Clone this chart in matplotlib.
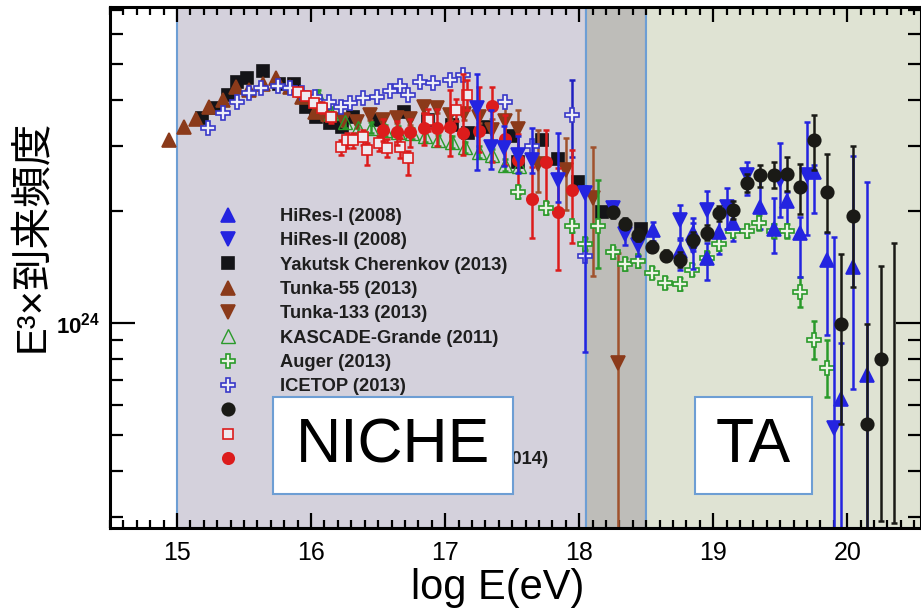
import numpy as np
import matplotlib
matplotlib.use("Agg")
from matplotlib import pyplot as plt
from matplotlib.patches import Rectangle
from matplotlib.ticker import LogLocator, NullFormatter, MultipleLocator, FixedLocator

plt.rcParams['font.family'] = ['Liberation Sans', 'Noto Sans CJK JP', 'DejaVu Sans']
plt.rcParams['mathtext.fontset'] = 'custom'
plt.rcParams['mathtext.rm'] = 'Liberation Sans'
plt.rcParams['mathtext.bf'] = 'Liberation Sans:bold'

# y values are log10(E^3 J)
tunka55_x = [14.94, 15.05, 15.14, 15.24, 15.34, 15.44, 15.54, 15.64, 15.74, 15.84, 15.93, 16.03]
tunka55_y = [24.493, 24.528, 24.550, 24.582, 24.601, 24.636, 24.628, 24.644, 24.660, 24.636, 24.609, 24.569]

yakutsk_x = [15.19, 15.28, 15.38, 15.45, 15.52, 15.64, 15.76, 15.87, 15.96, 16.04, 16.14, 16.23, 16.31,
             16.49, 16.69, 16.87, 17.05, 17.17, 17.30, 17.49, 17.54, 17.72, 17.84, 17.99, 18.17, 18.46]
yakutsk_y = [24.553, 24.580, 24.615, 24.650, 24.660, 24.679, 24.644, 24.644, 24.582, 24.555, 24.539, 24.528, 24.555,
             24.547, 24.569, 24.547, 24.534, 24.512, 24.528, 24.504, 24.434, 24.493, 24.442, 24.380, 24.299, 24.253]

icetop_x = [15.23, 15.34, 15.45, 15.54, 15.63, 15.75, 15.84, 15.93, 16.03, 16.13, 16.22, 16.29, 16.39,
            16.49, 16.59, 16.66, 16.72, 16.81, 16.91, 17.04, 17.13, 17.45, 17.65, 17.95, 18.04]
icetop_y = [24.526, 24.566, 24.596, 24.620, 24.633, 24.639, 24.633, 24.620, 24.609, 24.596, 24.582, 24.593, 24.607,
            24.609, 24.625, 24.639, 24.615, 24.650, 24.647, 24.655, 24.668, 24.596, 24.477, 24.561, 24.181]
icetop_hi = [0] * 23 + [0.094, 0]
icetop_lo = [0] * 23 + [0.114, 0]

kascade_x = [16.05, 16.15, 16.25, 16.35, 16.45, 16.55, 16.65, 16.75, 16.85, 16.95, 17.05, 17.15, 17.25, 17.35, 17.45, 17.55]
kascade_y = [24.612, 24.566, 24.542, 24.526, 24.526, 24.520, 24.515, 24.512, 24.504, 24.493, 24.488, 24.474, 24.461,
             24.453, 24.426, 24.423]
kascade_err = [0.015] * 16

auger_x = [17.54, 17.75, 17.95, 18.04, 18.14, 18.25, 18.34, 18.44, 18.54, 18.64, 18.75, 18.84, 18.95, 19.04,
           19.15, 19.25, 19.34, 19.45, 19.55, 19.65, 19.75, 19.85]
auger_y = [24.353, 24.310, 24.261, 24.213, 24.261, 24.191, 24.159, 24.167, 24.135, 24.108, 24.105, 24.143, 24.175,
           24.213, 24.248, 24.248, 24.270, 24.248, 24.248, 24.084, 23.954, 23.879]
auger_hi = [0.015, 0.015, 0.015, 0.015, 0.124, 0.015, 0.015, 0.015, 0.015, 0.015, 0.015, 0.015, 0.015, 0.015,
            0.015, 0.015, 0.02, 0.02, 0.02, 0.04, 0.05, 0.075]
auger_lo = [0.015, 0.015, 0.015, 0.015, 0.113, 0.015, 0.015, 0.015, 0.015, 0.015, 0.015, 0.015, 0.015, 0.015,
            0.015, 0.015, 0.02, 0.02, 0.02, 0.04, 0.05, 0.08]

hires1_x = [18.55, 18.75, 18.85, 18.95, 19.04, 19.15, 19.35, 19.45, 19.55, 19.65, 19.75, 19.85, 19.95, 20.04, 20.15]
hires1_y = [24.251, 24.194, 24.243, 24.175, 24.245, 24.270, 24.313, 24.253, 24.329, 24.243, 24.407, 24.170,
            23.795, 24.151, 23.860]
hires1_hi = [0.02, 0.03, 0.04, 0.04, 0.04, 0.04, 0.08, 0.084, 0.024, 0.043, 0.019, 0.073, 0.15, 0.30, 0.52]
hires1_lo = [0.03, 0.05, 0.05, 0.06, 0.06, 0.05, 0.06, 0.065, 0.094, 0.119, 0.11, 0.202, 1.0, 0.33, 1.0]

hires2_x = [17.24, 17.34, 17.44, 17.54, 17.65, 17.84, 18.04, 18.25, 18.34, 18.44, 18.75, 18.85, 18.95, 19.10,
            19.25, 19.50, 19.70, 19.90]
hires2_y = [24.580, 24.474, 24.472, 24.453, 24.439, 24.385, 24.350, 24.310, 24.240, 24.210, 24.278, 24.205,
            24.305, 24.313, 24.399, 24.385, 24.399, 23.717]
hires2_hi = [0.09, 0.10, 0.06, 0.05, 0.087, 0.126, 0.02, 0.02, 0.03, 0.02, 0.04, 0.065, 0.05, 0.05, 0.035, 0.10,
             0.143, 0.515]
hires2_lo = [0.167, 0.06, 0.05, 0.05, 0.035, 0.06, 0.428, 0.02, 0.03, 0.03, 0.05, 0.06, 0.06, 0.06, 0.054, 0.10,
             0.162, 1.0]

ta_x = [18.25, 18.34, 18.44, 18.54, 18.65, 18.75, 18.85, 18.95, 19.04, 19.15, 19.25, 19.35, 19.45, 19.55,
        19.65, 19.75, 19.85, 19.95, 20.04, 20.15, 20.25]
ta_y = [24.299, 24.267, 24.237, 24.205, 24.181, 24.170, 24.224, 24.243, 24.296, 24.305, 24.377, 24.399, 24.399,
        24.402, 24.367, 24.493, 24.353, 23.997, 24.288, 23.728, 23.903]
ta_hi = [0.015, 0.015, 0.015, 0.015, 0.015, 0.02, 0.02, 0.02, 0.02, 0.025, 0.025, 0.027, 0.035, 0.045,
         0.062, 0.067, 0.102, 0.19, 0.19, 0.27, 0.25]
ta_lo = [0.015, 0.015, 0.015, 0.015, 0.015, 0.02, 0.02, 0.02, 0.02, 0.025, 0.025, 0.032, 0.035, 0.045,
         0.073, 0.08, 0.108, 0.27, 0.19, 1.0, 0.437]
# bar with no visible point
ta_bar_x = [20.35]
ta_bar_top = [24.216]
ta_bar_bot = [23.461]

tale_sq_x = [15.90, 15.96, 16.02, 16.08, 16.15, 16.22, 16.27, 16.31, 16.39, 16.42, 16.51, 16.57, 16.66, 16.72,
             16.87, 17.08, 17.16]
tale_sq_y = [24.623, 24.612, 24.593, 24.580, 24.555, 24.474, 24.493, 24.493, 24.501, 24.466, 24.485, 24.472,
             24.474, 24.445, 24.547, 24.574, 24.615]
tale_sq_hi = [0.01, 0.01, 0.01, 0.015, 0.015, 0.02, 0.02, 0.02, 0.02, 0.02, 0.02, 0.025, 0.025, 0.02, 0.03, 0.03, 0.04]
tale_sq_lo = [0.01, 0.01, 0.01, 0.015, 0.015, 0.02, 0.02, 0.02, 0.02, 0.04, 0.02, 0.025, 0.03, 0.045, 0.03, 0.03, 0.04]

tale_x = [16.54, 16.64, 16.74, 16.84, 16.94, 17.04, 17.13, 17.25, 17.35, 17.45, 17.54, 17.65, 17.75, 17.84, 17.95]
tale_y = [24.520, 24.515, 24.515, 24.526, 24.526, 24.528, 24.512, 24.518, 24.585, 24.496, 24.439, 24.334,
          24.434, 24.299, 24.358]
tale_hi = [0.03, 0.03, 0.035, 0.04, 0.05, 0.10, 0.16, 0.118, 0.05, 0.065, 0.07, 0.087, 0.086, 0.12, 0.108]
tale_lo = [0.03, 0.035, 0.04, 0.045, 0.05, 0.077, 0.06, 0.057, 0.15, 0.07, 0.09, 0.105, 0.108, 0.156, 0.143]

tunka133_x = [16.09, 16.24, 16.34, 16.44, 16.54, 16.64, 16.74, 16.84, 16.94, 17.04, 17.14, 17.25, 17.35, 17.45,
              17.54, 17.69, 17.90, 18.10, 18.29]
tunka133_y = [24.561, 24.547, 24.542, 24.561, 24.547, 24.553, 24.550, 24.582, 24.580, 24.561, 24.563, 24.555,
              24.520, 24.544, 24.523, 24.429, 24.412, 24.337, 23.892]
tunka133_hi = [0.015] * 12 + [0.03, 0.05, 0.05, 0.09, 0.086, 0.137, 0.297]
tunka133_lo = [0.015] * 12 + [0.03, 0.05, 0.06, 0.075, 0.108, 0.21, 1.0]

labels = ["HiRes-I (2008)", "HiRes-II (2008)", "Yakutsk Cherenkov (2013)", "Tunka-55 (2013)",
          "Tunka-133 (2013)", "KASCADE-Grande (2011)", "Auger (2013)", "ICETOP (2013)",
          "TA SD (2013)", "TALE Mono (2014)", "TALE Cherenkov Hybrid (2014)"]

blue = '#2424e0'
black = '#1a1a16'
brown = '#8b3a1a'
green = '#2a9a2a'
ice = '#3838c8'
red = '#dc1c1c'

fig = plt.figure(figsize=(9.21, 6.10), dpi=100)
ax = fig.add_axes([110 / 921, 1 - 528 / 610, 811 / 921, 521 / 610])
ax.set_yscale('log')
ax.set_xlim(14.5, 20.55)
ax.set_ylim(10 ** 23.447, 10 ** 24.852)

ax.axvspan(15.0, 18.05, facecolor='#d4d1dc', edgecolor='#6d9ed4', lw=1.5, zorder=0)
ax.axvspan(18.05, 18.5, facecolor='#bebdb9', edgecolor='#6d9ed4', lw=1.5, zorder=0)
ax.axvspan(18.5, 21.0, facecolor='#dfe3d3', edgecolor='#6d9ed4', lw=1.5, zorder=0)


def draw(x, ly, hi, lo, color, marker, ms, mfc, label, z, mew=1.2, ecolor=None):
    x = np.array(x)
    ly = np.array(ly)
    y = 10 ** ly
    if hi is not None:
        yerr = [y - 10 ** (ly - np.array(lo)), 10 ** (ly + np.array(hi)) - y]
        ax.errorbar(x, y, yerr=yerr, fmt='none', ecolor=ecolor or color, elinewidth=1.8,
                    capsize=2.5, capthick=1.8, zorder=z)
    line, = ax.plot(x, y, ls='none', marker=marker, ms=ms, mfc=mfc, mec=color, mew=mew,
                    label=label, zorder=z + 0.1)
    return line


h_yak = draw(yakutsk_x, yakutsk_y, None, None, '#141418', 's', 8.7, '#141418', labels[2], 2.0)
h_t55 = draw(tunka55_x, tunka55_y, None, None, brown, '^', 9.9, brown, labels[3], 2.1)
h_t133 = draw(tunka133_x, tunka133_y, tunka133_hi, tunka133_lo, brown, 'v', 9.9, brown, labels[4], 2.2,
              ecolor='#a0522d')
h_kas = draw(kascade_x, kascade_y, kascade_err, kascade_err, green, '^', 9.7, 'none', labels[5], 2.3, mew=1.0)
h_ice = draw(icetop_x, icetop_y, icetop_hi, icetop_lo, ice, 'P', 10.5, '#eeeef6', labels[7], 2.4, mew=1.2,
             ecolor='#1f1fc0')
h_tsq = draw(tale_sq_x, tale_sq_y, tale_sq_hi, tale_sq_lo, red, 's', 7.5, '#eeeaf0', labels[9], 2.5, mew=1.2)
h_tale = draw(tale_x, tale_y, tale_hi, tale_lo, red, 'o', 8.2, red, labels[10], 2.6)
h_aug = draw(auger_x, auger_y, auger_hi, auger_lo, green, 'P', 10.5, '#eef4e6', labels[6], 2.7, mew=1.2)
h_h1 = draw(hires1_x, hires1_y, hires1_hi, hires1_lo, blue, '^', 9.9, blue, labels[0], 2.8)
h_h2 = draw(hires2_x, hires2_y, hires2_hi, hires2_lo, blue, 'v', 9.9, blue, labels[1], 2.9)
h_ta = draw(ta_x, ta_y, ta_hi, ta_lo, black, 'o', 9.0, black, labels[8], 3.0)

bx = np.array(ta_bar_x)
btop = 10 ** np.array(ta_bar_top)
bbot = 10 ** np.array(ta_bar_bot)
bmid = np.sqrt(btop * bbot)
ax.errorbar(bx, bmid, yerr=[bmid - bbot, btop - bmid], fmt='none', ecolor=black, elinewidth=1.8,
            capsize=2.5, capthick=1.8, zorder=3.0)

handles = [h_h1, h_h2, h_yak, h_t55, h_t133, h_kas, h_aug, h_ice, h_ta, h_tsq, h_tale]
leg = ax.legend(handles=handles, loc='upper left', bbox_to_anchor=((214 - 110) / 811, (528 - 208) / 521),
                frameon=False, borderpad=0, borderaxespad=0, handlelength=1.5, handletextpad=2.1,
                labelspacing=0.40, numpoints=1, prop={'weight': 'bold', 'size': 13.2})
leg.set_zorder(4)
for t in leg.get_texts():
    t.set_color('#1e1e1e')

ax.add_patch(Rectangle((0.201, 0.065), 0.296, 0.186, transform=ax.transAxes, facecolor='white',
                       edgecolor='#6d9ed4', lw=1.5, zorder=5))
ax.text(0.349, 0.158, "NICHE", transform=ax.transAxes, ha='center', va='center', fontsize=45, zorder=6)
ax.add_patch(Rectangle((0.721, 0.065), 0.145, 0.186, transform=ax.transAxes, facecolor='white',
                       edgecolor='#6d9ed4', lw=1.5, zorder=5))
ax.text(0.7935, 0.158, "TA", transform=ax.transAxes, ha='center', va='center', fontsize=45, zorder=6)

ax.xaxis.set_major_locator(FixedLocator([15, 16, 17, 18, 19, 20]))
ax.xaxis.set_minor_locator(MultipleLocator(0.1))
ax.set_xticklabels(['15', '16', '17', '18', '19', '20'])
ax.yaxis.set_major_locator(FixedLocator([1e24]))
ax.set_yticklabels([r'$\mathbf{10^{24}}$'])
ax.yaxis.set_minor_locator(LogLocator(base=10, subs=np.arange(2, 10)))
ax.yaxis.set_minor_formatter(NullFormatter())

ax.tick_params(axis='x', which='major', direction='in', length=11, width=1.6, top=True, labelsize=18, pad=9)
ax.tick_params(axis='x', which='minor', direction='in', length=5.5, width=1.6, top=True)
ax.tick_params(axis='y', which='major', direction='in', length=18, width=1.6, right=True, labelsize=16, pad=7)
ax.tick_params(axis='y', which='minor', direction='in', length=9.5, width=1.6, right=True)
for s in ax.spines.values():
    s.set_linewidth(2.2)
    s.set_zorder(7)

ax.set_xlabel("log E(eV)", fontsize=30)
ax.xaxis.set_label_coords(0.478, -0.077)
ax.set_ylabel("E³×到来頻度", fontsize=30)
ax.yaxis.set_label_coords(-0.072, 0.56)

fig.savefig("out.png", dpi=100)
